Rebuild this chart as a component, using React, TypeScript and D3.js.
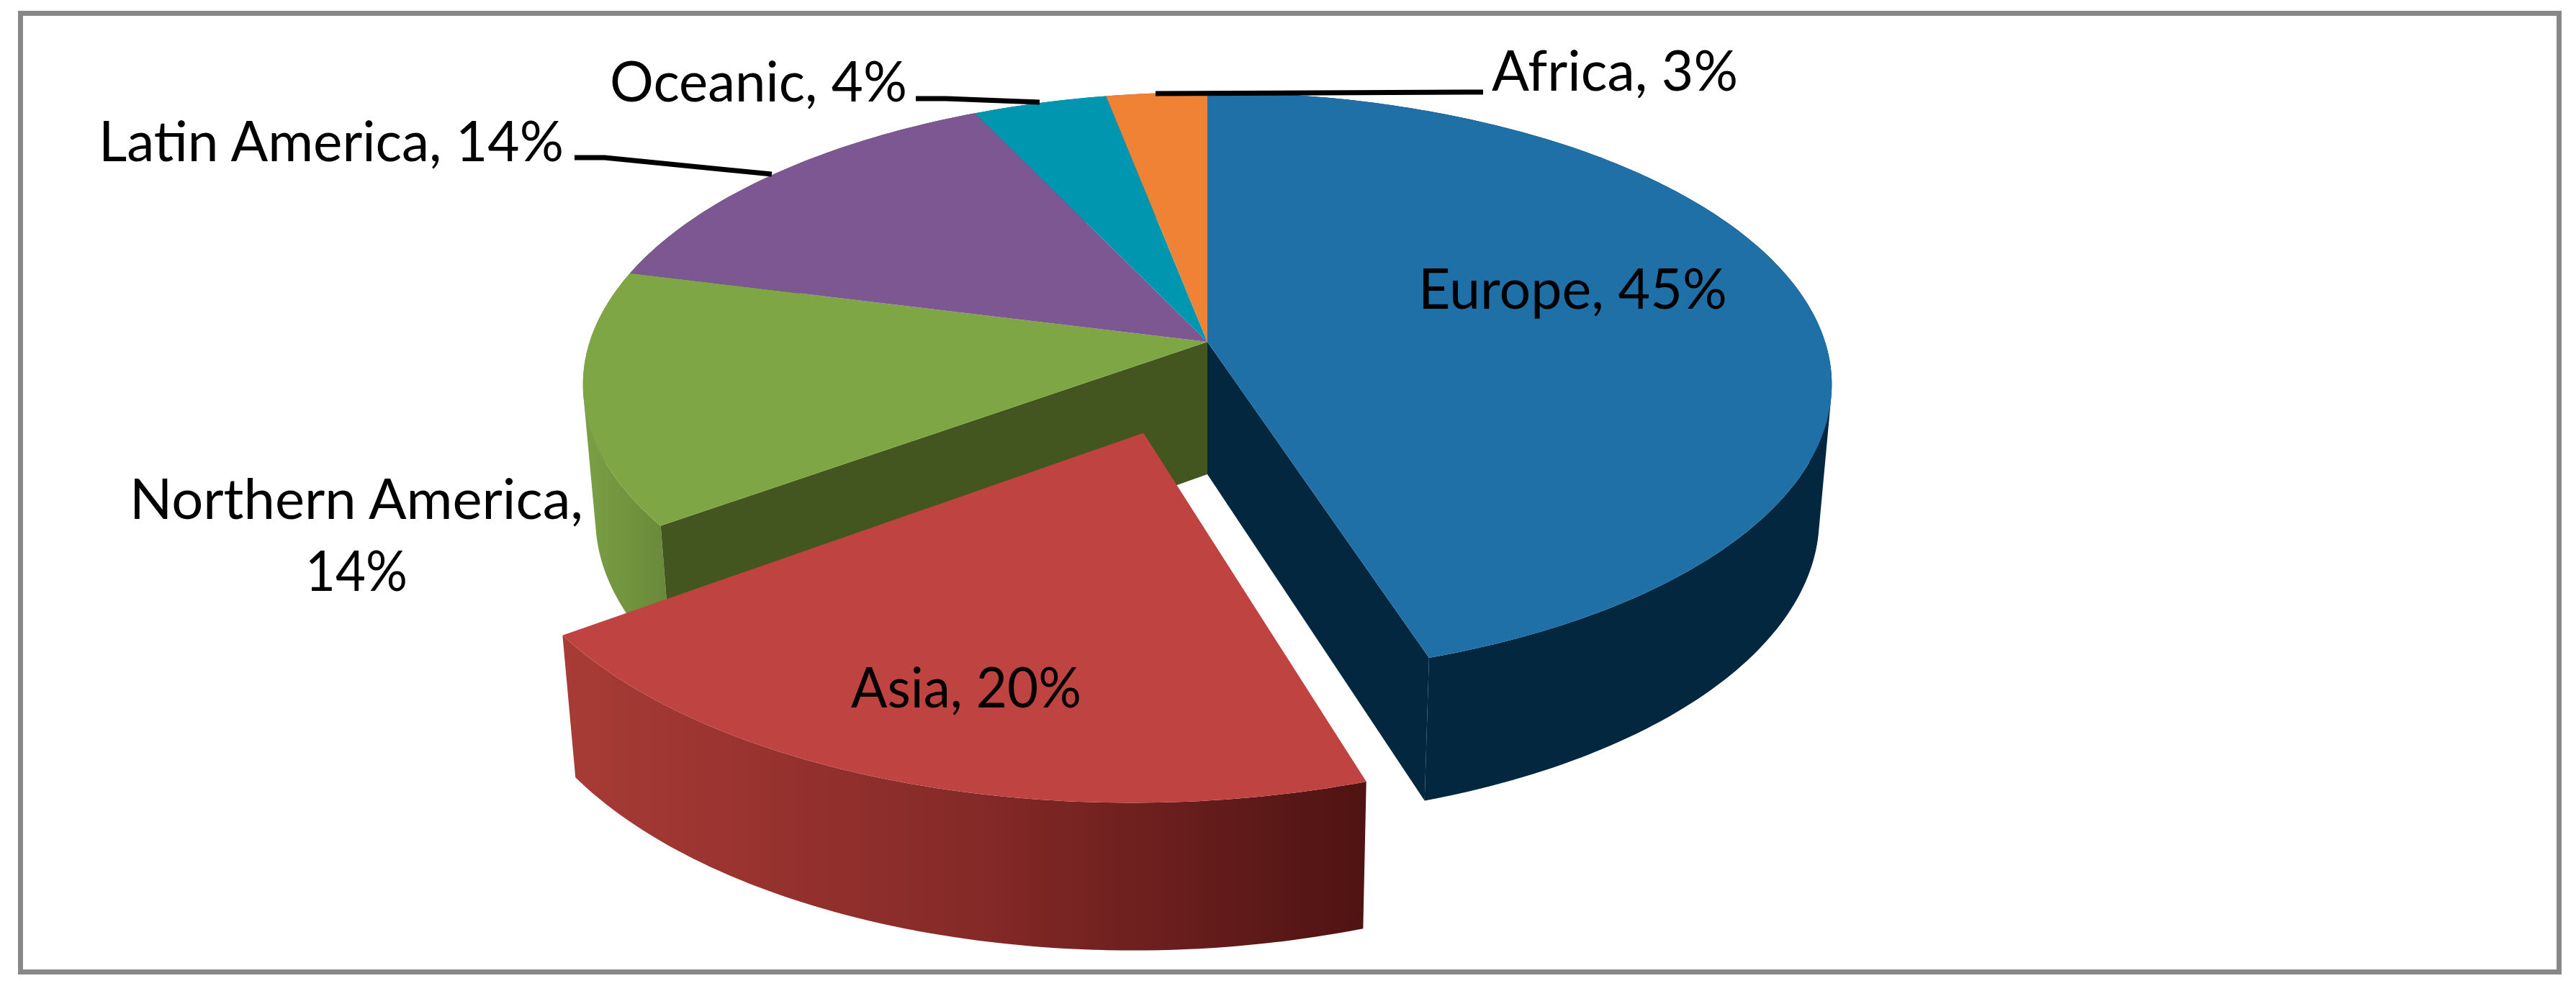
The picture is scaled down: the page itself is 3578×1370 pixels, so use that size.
import React from "react";
import * as d3 from "d3";

const categories = ["Europe", "Asia", "Northern America", "Latin America", "Oceanic", "Africa"];
const shares = [45, 20, 14, 14, 4, 3];
const percentLabels = ["45%", "20%", "14%", "14%", "4%", "3%"];

const W = 3578;
const H = 1370;
const topColors = ["#2070a8", "#be4341", "#7ea644", "#7d5791", "#0096b0", "#f08236"];
const faceColors = ["#02273f", "#8a2a28", "#44561f", "#5a3f69", "#006c80", "#a85a25"];
const wallColors = ["#02273f", "url(#asiaWall)", "url(#greenWall)", "#5a3f69", "#006c80", "#a85a25"];
const explode = [0, 0.32, 0, 0, 0, 0];

// perspective projection of the pie plane
const CX = 1677, CY = 475, AX = 858, BY = 397.5, K = 0.146;
const DEPTH_X = 0.98, DEPTH_S = 0.033, DEPTH_D = 184;

type P = [number, number];
const project = (u: number, v: number): P => {
  const w = 1 + K * v;
  return [CX + (AX * u) / w, CY - (BY * v) / w];
};
const drop = ([x, y]: P): P => [CX + (x - CX) * DEPTH_X, y + (y - CY) * DEPTH_S + DEPTH_D];

const pieGen = d3.pie<number>().sort(null).startAngle(0).endAngle(2 * Math.PI);
const arcs = pieGen(shares);
const line = d3.line<P>();

const rimPoints = (a0: number, a1: number, ox: number, oy: number): P[] => {
  const n = Math.max(4, Math.ceil(((a1 - a0) / (2 * Math.PI)) * 360));
  return d3.range(n + 1).map((i) => {
    const a = a0 + ((a1 - a0) * i) / n;
    return project(Math.sin(a) + ox, Math.cos(a) + oy);
  });
};

// the wall is the union of one quad per rim step, all wound the same way,
// so the silhouette between the top and bottom rims stays filled
const wallPath = (rim: P[]) =>
  rim
    .slice(1)
    .map((b, j) => {
      const a = rim[j];
      const quad: P[] = [a, b, drop(b), drop(a)];
      return line(d3.polygonArea(quad) < 0 ? quad.reverse() : quad)! + "Z";
    })
    .join("");

const sliceParts = (i: number) => {
  const { startAngle: a0, endAngle: a1 } = arcs[i];
  const mid = (a0 + a1) / 2;
  const ox = explode[i] * Math.sin(mid);
  const oy = explode[i] * Math.cos(mid);
  const apex = project(ox, oy);
  const rim = rimPoints(a0, a1, ox, oy);
  const top = line([apex, ...rim])! + "Z";
  const wall = wallPath(rim);
  const faceA = line([apex, rim[0], drop(rim[0]), drop(apex)])! + "Z";
  const last = rim[rim.length - 1];
  const faceB = line([apex, last, drop(last), drop(apex)])! + "Z";
  return { top, wall, faceA, faceB };
};

const n = shares.length;
const whole = shares.map((_, i) => i).filter((i) => explode[i] === 0);
const pulled = shares.map((_, i) => i).filter((i) => explode[i] > 0);
const nextPulled = (i: number) => explode[(i + 1) % n] > 0;
const prevPulled = (i: number) => explode[(i - 1 + n) % n] > 0;

const labelText = categories.map((c, i) => `${c}, ${percentLabels[i]}`);
const labels: { lines: { t: string; x: number; y: number; w: number }[] }[] = [
  { lines: [{ t: labelText[0], x: 1970, y: 429, w: 429 }] },
  { lines: [{ t: labelText[1], x: 1182, y: 983, w: 320 }] },
  {
    lines: [
      { t: `${categories[2]},`, x: 180, y: 721, w: 630 },
      { t: percentLabels[2], x: 424, y: 821, w: 142 },
    ],
  },
  { lines: [{ t: labelText[3], x: 137, y: 224, w: 646 }] },
  { lines: [{ t: labelText[4], x: 847, y: 141, w: 413 }] },
  { lines: [{ t: labelText[5], x: 2072, y: 126, w: 342 }] },
];

const leaders: P[][] = [
  [[798, 219], [840, 219], [1072, 242]],
  [[1272, 137], [1314, 137], [1444, 142]],
  [[1605, 130], [2060, 128]],
];

export default function App() {
  const parts = shares.map((_, i) => sliceParts(i));
  return (
    <svg
      width={W}
      height={H}
      viewBox={`0 0 ${W} ${H}`}
      style={{ position: "absolute", left: 0, top: 0, background: "#fff" }}
    >
      <defs>
        <linearGradient id="asiaWall" gradientUnits="userSpaceOnUse" x1={785} x2={1900} y1={0} y2={0}>
          <stop offset="0" stopColor="#a83b35" />
          <stop offset="0.5" stopColor="#862a28" />
          <stop offset="1" stopColor="#4e1312" />
        </linearGradient>
        <linearGradient id="greenWall" gradientUnits="userSpaceOnUse" x1={812} x2={930} y1={0} y2={0}>
          <stop offset="0" stopColor="#7a9f44" />
          <stop offset="1" stopColor="#68893a" />
        </linearGradient>
      </defs>
      <rect x={28.5} y={18.5} width={3526} height={1332} fill="#fff" stroke="#888888" strokeWidth={7} />
      {whole.map((i) => (
        <g key={`s${i}`}>
          <path d={parts[i].wall} fill={wallColors[i]} />
          {prevPulled(i) && <path d={parts[i].faceA} fill={faceColors[i]} />}
          {nextPulled(i) && <path d={parts[i].faceB} fill={faceColors[i]} />}
        </g>
      ))}
      {whole.map((i) => (
        <path key={`t${i}`} d={parts[i].top} fill={topColors[i]} />
      ))}
      {pulled.map((i) => (
        <g key={`p${i}`}>
          <path d={parts[i].wall} fill={wallColors[i]} />
          <path d={parts[i].top} fill={topColors[i]} />
        </g>
      ))}
      {leaders.map((l, i) => (
        <path key={`l${i}`} d={line(l)!} fill="none" stroke="#000" strokeWidth={7} />
      ))}
      <g fontFamily="Lato, 'Open Sans', sans-serif" fontSize={78} fill="#000">
        {labels.flatMap((l) =>
          l.lines.map((s) => (
            <text key={s.t} x={s.x} y={s.y} textLength={s.w} lengthAdjust="spacingAndGlyphs">
              {s.t}
            </text>
          )),
        )}
      </g>
    </svg>
  );
}
